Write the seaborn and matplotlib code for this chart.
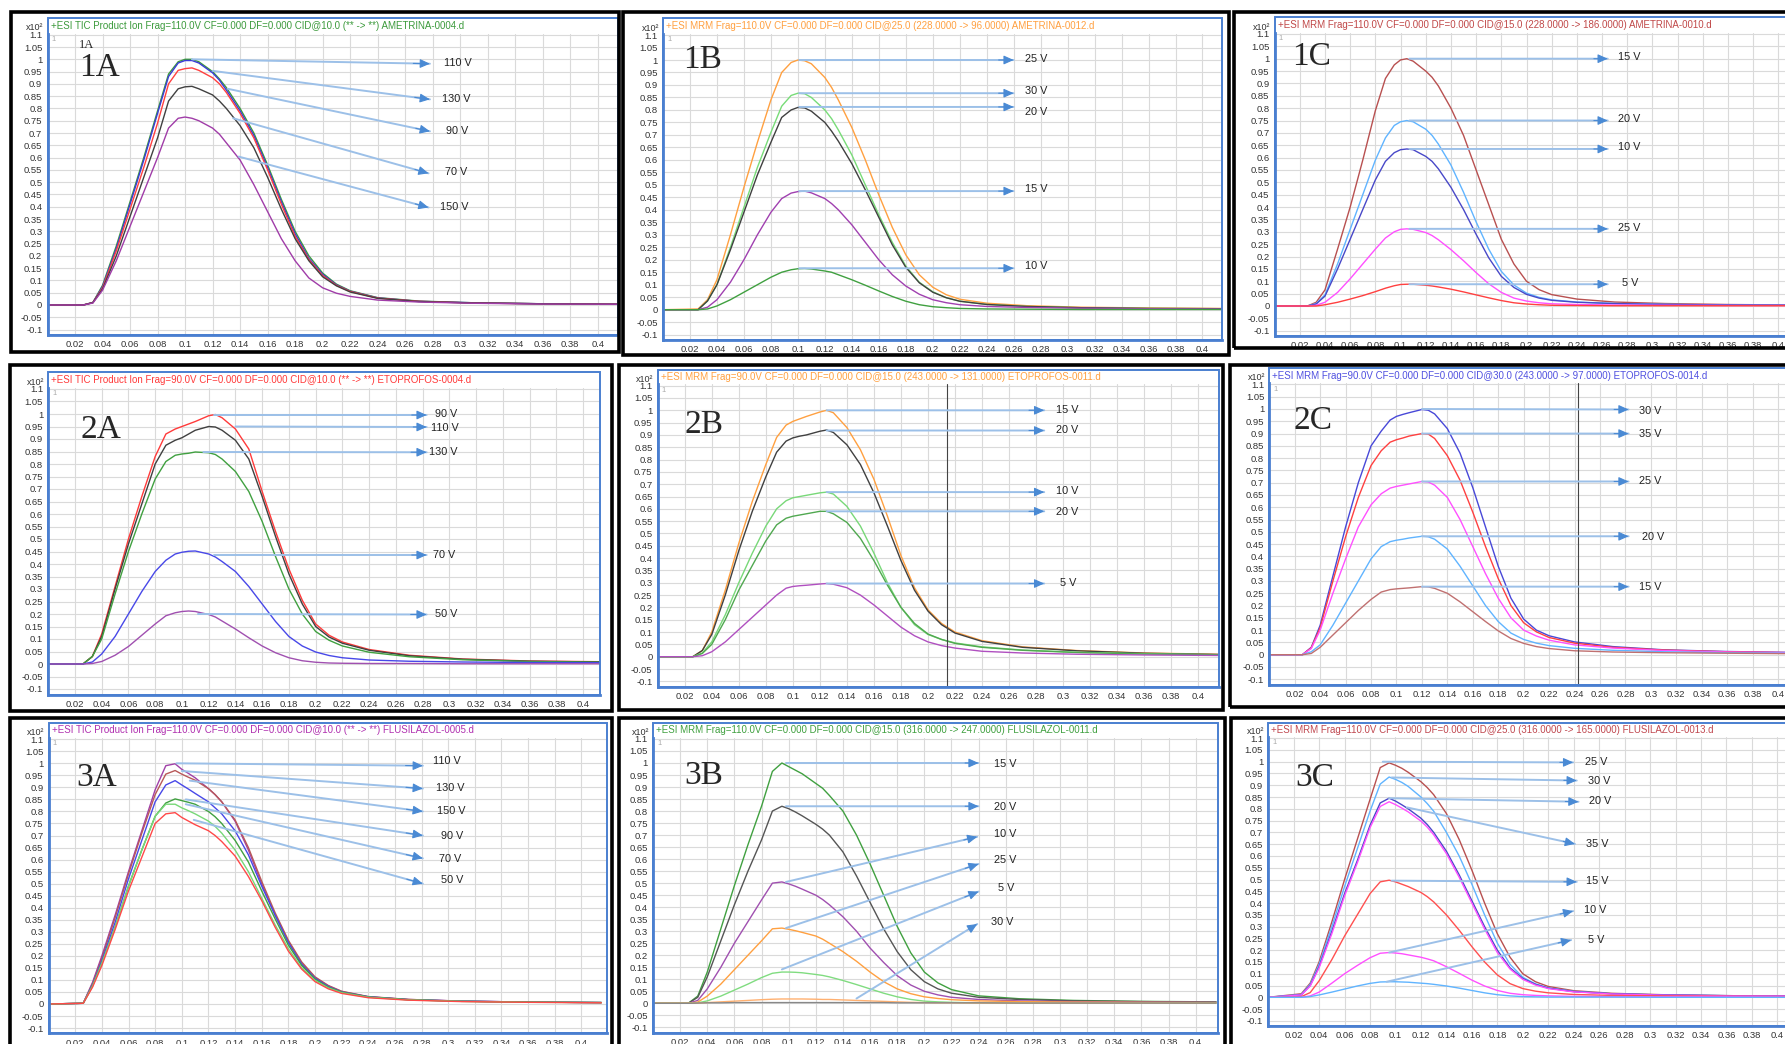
import numpy as np
import seaborn as sns
from matplotlib import pyplot as plt
from matplotlib.patches import Rectangle

W, H = 1785, 1044

# retention time grid (min) shared by all traces
T = [0.0, 0.026, 0.033, 0.04, 0.05, 0.06, 0.07, 0.08, 0.088, 0.095, 0.1, 0.105, 0.11, 0.12, 0.125,
     0.13, 0.14, 0.15, 0.16, 0.17, 0.18, 0.19, 0.2, 0.21, 0.22, 0.24, 0.27, 0.31, 0.36, 0.415]

# ---- 1A ametrina TIC
TITLE_1A = '+ESI TIC Product Ion Frag=110.0V CF=0.000 DF=0.000 CID@10.0 (** -> **) AMETRINA-0004.d'
LABELS_1A = ['110 V', '130 V', '90 V', '70 V', '150 V']
Y_1A = [
    [0, 0, 0.01, 0.08, 0.24, 0.42, 0.6, 0.79, 0.94, 0.99, 1.0, 1.0, 0.99, 0.95, 0.92, 0.885, 0.8, 0.7, 0.57, 0.43, 0.3, 0.2, 0.13, 0.085, 0.058, 0.03, 0.016, 0.009, 0.005, 0.003],
    [0, 0, 0.01, 0.075, 0.23, 0.41, 0.59, 0.78, 0.93, 0.985, 0.995, 0.995, 0.985, 0.945, 0.915, 0.875, 0.79, 0.69, 0.56, 0.42, 0.29, 0.19, 0.125, 0.082, 0.056, 0.029, 0.015, 0.009, 0.005, 0.003],
    [0, 0, 0.01, 0.07, 0.22, 0.39, 0.56, 0.74, 0.9, 0.955, 0.962, 0.965, 0.955, 0.925, 0.9, 0.865, 0.78, 0.68, 0.55, 0.41, 0.28, 0.185, 0.12, 0.08, 0.055, 0.028, 0.015, 0.008, 0.005, 0.003],
    [0, 0, 0.01, 0.065, 0.2, 0.36, 0.52, 0.68, 0.83, 0.88, 0.888, 0.89, 0.88, 0.855, 0.83, 0.8, 0.73, 0.64, 0.52, 0.39, 0.27, 0.18, 0.115, 0.078, 0.053, 0.027, 0.014, 0.008, 0.005, 0.003],
    [0, 0, 0.008, 0.06, 0.18, 0.32, 0.46, 0.6, 0.72, 0.76, 0.765, 0.76, 0.75, 0.72, 0.695, 0.66, 0.59, 0.49, 0.38, 0.27, 0.18, 0.11, 0.07, 0.048, 0.035, 0.02, 0.012, 0.007, 0.004, 0.003],
]
COLORS_1A = ['#3c9a3c', '#3a3ad8', '#ff4040', '#404040', '#a03ca8']

# ---- 1B ametrina MRM 228 -> 96
TITLE_1B = '+ESI MRM Frag=110.0V CF=0.000 DF=0.000 CID@25.0 (228.0000 -> 96.0000) AMETRINA-0012.d'
LABELS_1B = ['25 V', '30 V', '20 V', '15 V', '10 V']
Y_1B = [
    [0, 0.003, 0.04, 0.12, 0.3, 0.49, 0.67, 0.84, 0.95, 0.99, 1.0, 0.997, 0.985, 0.93, 0.89, 0.84, 0.73, 0.6, 0.46, 0.33, 0.22, 0.14, 0.09, 0.06, 0.042, 0.026, 0.016, 0.01, 0.007, 0.005],
    [0, 0, 0.035, 0.1, 0.25, 0.41, 0.57, 0.71, 0.815, 0.858, 0.867, 0.865, 0.85, 0.8, 0.765, 0.72, 0.62, 0.5, 0.38, 0.27, 0.175, 0.11, 0.072, 0.048, 0.034, 0.021, 0.013, 0.008, 0.005, 0.004],
    [0, 0, 0.035, 0.1, 0.24, 0.39, 0.54, 0.67, 0.77, 0.8, 0.81, 0.808, 0.795, 0.75, 0.715, 0.675, 0.585, 0.48, 0.37, 0.26, 0.17, 0.108, 0.07, 0.048, 0.034, 0.021, 0.013, 0.008, 0.005, 0.004],
    [0, 0, 0.01, 0.04, 0.11, 0.2, 0.3, 0.39, 0.445, 0.467, 0.473, 0.475, 0.468, 0.445, 0.425, 0.4, 0.34, 0.27, 0.2, 0.14, 0.095, 0.062, 0.04, 0.028, 0.02, 0.013, 0.009, 0.006, 0.004, 0.003],
    [0, 0, 0.003, 0.015, 0.04, 0.07, 0.1, 0.13, 0.15, 0.16, 0.164, 0.165, 0.163, 0.155, 0.15, 0.14, 0.12, 0.098, 0.075, 0.053, 0.034, 0.02, 0.012, 0.008, 0.005, 0.003, 0.002, 0.001, 0.001, 0.001],
]
COLORS_1B = ['#ffa040', '#78dc78', '#404040', '#a040b0', '#40a040']

# ---- 1C ametrina MRM 228 -> 186
TITLE_1C = '+ESI MRM Frag=110.0V CF=0.000 DF=0.000 CID@15.0 (228.0000 -> 186.0000) AMETRINA-0010.d'
LABELS_1C = ['15 V', '20 V', '10 V', '25 V', '5 V']
Y_1C = [
    [0, 0, 0.015, 0.065, 0.23, 0.4, 0.59, 0.79, 0.92, 0.975, 0.995, 1.0, 0.99, 0.95, 0.925, 0.89, 0.8, 0.69, 0.55, 0.41, 0.27, 0.17, 0.1, 0.066, 0.046, 0.028, 0.016, 0.01, 0.006, 0.004],
    [0, 0, 0.01, 0.045, 0.17, 0.31, 0.45, 0.59, 0.68, 0.73, 0.745, 0.75, 0.745, 0.715, 0.69, 0.655, 0.57, 0.46, 0.34, 0.23, 0.14, 0.085, 0.052, 0.035, 0.025, 0.016, 0.01, 0.007, 0.004, 0.003],
    [0, 0, 0.008, 0.04, 0.15, 0.27, 0.39, 0.51, 0.585, 0.62, 0.632, 0.635, 0.632, 0.605, 0.585, 0.555, 0.48, 0.39, 0.29, 0.195, 0.12, 0.075, 0.047, 0.032, 0.023, 0.015, 0.01, 0.006, 0.004, 0.003],
    [0, 0, 0.003, 0.015, 0.055, 0.11, 0.17, 0.23, 0.275, 0.3, 0.31, 0.312, 0.31, 0.297, 0.285, 0.268, 0.228, 0.183, 0.135, 0.09, 0.055, 0.032, 0.02, 0.013, 0.009, 0.006, 0.004, 0.003, 0.002, 0.002],
    [0, 0, 0, 0.005, 0.015, 0.028, 0.042, 0.058, 0.072, 0.082, 0.087, 0.088, 0.088, 0.084, 0.081, 0.077, 0.068, 0.057, 0.045, 0.033, 0.022, 0.013, 0.008, 0.005, 0.003, 0.002, 0.001, 0.001, 0.001, 0.001],
]
COLORS_1C = ['#b85050', '#60b4ff', '#4848c8', '#ff50ff', '#ff4040']

# ---- 2A etoprofos TIC
TITLE_2A = '+ESI TIC Product Ion Frag=90.0V CF=0.000 DF=0.000 CID@10.0 (** -> **) ETOPROFOS-0004.d'
LABELS_2A = ['90 V', '110 V', '130 V', '70 V', '50 V']
Y_2A = [
    [0, 0, 0.03, 0.12, 0.31, 0.5, 0.67, 0.83, 0.92, 0.94, 0.95, 0.96, 0.97, 0.993, 0.998, 0.985, 0.94, 0.86, 0.69, 0.53, 0.38, 0.255, 0.16, 0.115, 0.088, 0.058, 0.035, 0.02, 0.012, 0.009],
    [0, 0, 0.03, 0.11, 0.3, 0.48, 0.64, 0.8, 0.875, 0.895, 0.905, 0.92, 0.935, 0.95, 0.948, 0.935, 0.895, 0.82, 0.67, 0.51, 0.36, 0.24, 0.15, 0.108, 0.083, 0.055, 0.033, 0.019, 0.011, 0.008],
    [0, 0, 0.03, 0.1, 0.28, 0.45, 0.6, 0.74, 0.81, 0.835, 0.84, 0.843, 0.848, 0.845, 0.838, 0.82, 0.77, 0.69, 0.57, 0.43, 0.3, 0.2, 0.13, 0.095, 0.072, 0.047, 0.029, 0.017, 0.01, 0.007],
    [0, 0, 0.008, 0.04, 0.11, 0.2, 0.29, 0.37, 0.415, 0.44, 0.447, 0.451, 0.452, 0.44, 0.428, 0.41, 0.37, 0.31, 0.24, 0.17, 0.11, 0.072, 0.048, 0.034, 0.025, 0.016, 0.011, 0.008, 0.006, 0.005],
    [0, 0, 0.002, 0.01, 0.035, 0.07, 0.115, 0.16, 0.193, 0.205, 0.21, 0.212, 0.21, 0.198, 0.188, 0.172, 0.14, 0.105, 0.072, 0.045, 0.025, 0.013, 0.007, 0.004, 0.003, 0.002, 0.002, 0.001, 0.001, 0.001],
]
COLORS_2A = ['#ff3a3a', '#404040', '#40a040', '#4848e8', '#a050b0']

# ---- 2B etoprofos MRM 243 -> 131
TITLE_2B = '+ESI MRM Frag=90.0V CF=0.000 DF=0.000 CID@15.0 (243.0000 -> 131.0000) ETOPROFOS-0011.d'
LABELS_2B = ['15 V', '20 V', '10 V', '20 V', '5 V']
Y_2B = [
    [0, 0, 0.025, 0.1, 0.27, 0.46, 0.63, 0.78, 0.89, 0.94, 0.955, 0.965, 0.975, 0.993, 1.0, 0.99, 0.93, 0.84, 0.72, 0.57, 0.41, 0.28, 0.19, 0.135, 0.1, 0.065, 0.04, 0.025, 0.015, 0.01],
    [0, 0, 0.025, 0.09, 0.25, 0.43, 0.59, 0.73, 0.83, 0.875, 0.888, 0.895, 0.9, 0.915, 0.92, 0.91, 0.86, 0.78, 0.665, 0.53, 0.39, 0.27, 0.185, 0.13, 0.096, 0.062, 0.038, 0.024, 0.014, 0.009],
    [0, 0, 0.015, 0.06, 0.17, 0.3, 0.42, 0.53, 0.6, 0.633, 0.645, 0.65, 0.655, 0.665, 0.668, 0.66, 0.61, 0.53, 0.42, 0.3, 0.2, 0.13, 0.09, 0.07, 0.056, 0.04, 0.027, 0.018, 0.012, 0.008],
    [0, 0, 0.013, 0.05, 0.15, 0.27, 0.37, 0.47, 0.535, 0.562, 0.57, 0.575, 0.58, 0.59, 0.59, 0.58, 0.545, 0.48, 0.39, 0.29, 0.2, 0.135, 0.092, 0.07, 0.054, 0.038, 0.026, 0.017, 0.011, 0.008],
    [0, 0, 0.004, 0.02, 0.06, 0.11, 0.16, 0.21, 0.25, 0.278, 0.285, 0.288, 0.29, 0.295, 0.297, 0.294, 0.28, 0.25, 0.21, 0.165, 0.12, 0.085, 0.06, 0.045, 0.035, 0.022, 0.015, 0.01, 0.007, 0.005],
]
COLORS_2B = ['#ffa040', '#404040', '#78d878', '#50a850', '#b050c0']

# ---- 2C etoprofos MRM 243 -> 97
TITLE_2C = '+ESI MRM Frag=90.0V CF=0.000 DF=0.000 CID@30.0 (243.0000 -> 97.0000) ETOPROFOS-0014.d'
LABELS_2C = ['30 V', '35 V', '25 V', '20 V', '15 V']
Y_2C = [
    [0, 0, 0.03, 0.12, 0.32, 0.52, 0.7, 0.85, 0.91, 0.955, 0.97, 0.978, 0.985, 0.998, 0.995, 0.98, 0.92, 0.82, 0.68, 0.52, 0.36, 0.23, 0.145, 0.1, 0.077, 0.052, 0.033, 0.02, 0.013, 0.009],
    [0, 0, 0.028, 0.11, 0.3, 0.48, 0.64, 0.77, 0.83, 0.865, 0.875, 0.882, 0.89, 0.9, 0.898, 0.88, 0.81, 0.71, 0.58, 0.44, 0.31, 0.2, 0.13, 0.093, 0.07, 0.047, 0.03, 0.019, 0.012, 0.008],
    [0, 0, 0.025, 0.1, 0.25, 0.39, 0.52, 0.61, 0.655, 0.678, 0.685, 0.69, 0.695, 0.705, 0.703, 0.69, 0.64, 0.55, 0.44, 0.33, 0.23, 0.15, 0.1, 0.076, 0.059, 0.04, 0.027, 0.017, 0.011, 0.008],
    [0, 0, 0.012, 0.04, 0.12, 0.21, 0.3, 0.39, 0.44, 0.46, 0.466, 0.47, 0.475, 0.482, 0.48, 0.47, 0.43, 0.36, 0.28, 0.2, 0.135, 0.088, 0.062, 0.047, 0.037, 0.026, 0.018, 0.012, 0.008, 0.006],
    [0, 0, 0.005, 0.03, 0.08, 0.13, 0.18, 0.225, 0.255, 0.265, 0.268, 0.27, 0.272, 0.277, 0.276, 0.27, 0.25, 0.215, 0.175, 0.135, 0.097, 0.066, 0.046, 0.033, 0.025, 0.016, 0.011, 0.008, 0.006, 0.004],
]
COLORS_2C = ['#4848d8', '#ff4040', '#ff50ff', '#60b4ff', '#c07070']

# ---- 3A flusilazol TIC
TITLE_3A = '+ESI TIC Product Ion Frag=110.0V CF=0.000 DF=0.000 CID@10.0 (** -> **) FLUSILAZOL-0005.d'
LABELS_3A = ['110 V', '130 V', '150 V', '90 V', '70 V', '50 V']
Y_3A = [
    [0, 0.003, 0.09, 0.2, 0.37, 0.55, 0.72, 0.89, 0.99, 0.998, 0.975, 0.958, 0.94, 0.895, 0.87, 0.84, 0.76, 0.64, 0.5, 0.37, 0.26, 0.17, 0.11, 0.075, 0.052, 0.03, 0.019, 0.012, 0.008, 0.006],
    [0, 0.003, 0.085, 0.19, 0.36, 0.54, 0.71, 0.87, 0.955, 0.97, 0.955, 0.942, 0.93, 0.895, 0.87, 0.84, 0.765, 0.65, 0.51, 0.38, 0.265, 0.175, 0.113, 0.077, 0.053, 0.031, 0.019, 0.012, 0.008, 0.006],
    [0, 0.003, 0.08, 0.18, 0.34, 0.52, 0.68, 0.84, 0.91, 0.928, 0.91, 0.893, 0.875, 0.84, 0.815, 0.79, 0.72, 0.62, 0.49, 0.37, 0.255, 0.165, 0.107, 0.073, 0.05, 0.03, 0.018, 0.012, 0.008, 0.006],
    [0, 0.003, 0.075, 0.17, 0.32, 0.49, 0.64, 0.78, 0.835, 0.852, 0.845, 0.838, 0.83, 0.8, 0.778, 0.75, 0.68, 0.59, 0.47, 0.355, 0.245, 0.16, 0.103, 0.07, 0.049, 0.029, 0.018, 0.011, 0.008, 0.006],
    [0, 0.003, 0.075, 0.17, 0.32, 0.49, 0.64, 0.78, 0.83, 0.83, 0.815, 0.803, 0.79, 0.76, 0.738, 0.71, 0.64, 0.55, 0.44, 0.33, 0.23, 0.15, 0.098, 0.067, 0.047, 0.028, 0.017, 0.011, 0.007, 0.006],
    [0, 0.003, 0.07, 0.16, 0.31, 0.47, 0.61, 0.75, 0.79, 0.795, 0.775, 0.76, 0.745, 0.72, 0.7, 0.675, 0.615, 0.53, 0.43, 0.32, 0.22, 0.145, 0.093, 0.063, 0.044, 0.026, 0.016, 0.01, 0.007, 0.005],
]
COLORS_3A = ['#a040a8', '#b85858', '#4848e8', '#40a040', '#78d878', '#ff4848']

# ---- 3B flusilazol MRM 316 -> 247 (last trace is the unlabelled flat one)
TITLE_3B = '+ESI MRM Frag=110.0V CF=0.000 DF=0.000 CID@15.0 (316.0000 -> 247.0000) FLUSILAZOL-0011.d'
LABELS_3B = ['15 V', '20 V', '10 V', '25 V', '5 V', '30 V', '']
Y_3B = [
    [0, 0, 0.03, 0.13, 0.31, 0.49, 0.66, 0.82, 0.965, 1.0, 0.985, 0.97, 0.955, 0.915, 0.895, 0.865, 0.8, 0.7, 0.58, 0.45, 0.32, 0.21, 0.13, 0.085, 0.057, 0.031, 0.019, 0.012, 0.008, 0.006],
    [0, 0, 0.025, 0.11, 0.26, 0.41, 0.55, 0.68, 0.8, 0.82, 0.81, 0.796, 0.78, 0.745, 0.725, 0.7, 0.63, 0.53, 0.42, 0.31, 0.215, 0.14, 0.09, 0.06, 0.042, 0.025, 0.016, 0.01, 0.007, 0.005],
    [0, 0, 0.012, 0.06, 0.15, 0.25, 0.34, 0.43, 0.5, 0.505, 0.497, 0.487, 0.475, 0.45, 0.432, 0.41, 0.36, 0.3, 0.23, 0.17, 0.115, 0.076, 0.05, 0.035, 0.025, 0.016, 0.01, 0.007, 0.005, 0.004],
    [0, 0, 0.005, 0.03, 0.08, 0.14, 0.2, 0.26, 0.31, 0.313, 0.308, 0.302, 0.295, 0.28, 0.267, 0.25, 0.215, 0.175, 0.13, 0.09, 0.06, 0.04, 0.027, 0.02, 0.015, 0.01, 0.007, 0.005, 0.004, 0.003],
    [0, 0, 0.002, 0.01, 0.03, 0.055, 0.08, 0.107, 0.125, 0.13, 0.13, 0.129, 0.127, 0.12, 0.116, 0.11, 0.095, 0.078, 0.06, 0.042, 0.027, 0.016, 0.009, 0.006, 0.004, 0.002, 0.001, 0.001, 0.001, 0.001],
    [0, 0, 0.001, 0.003, 0.006, 0.009, 0.012, 0.015, 0.017, 0.018, 0.018, 0.018, 0.018, 0.017, 0.016, 0.016, 0.014, 0.012, 0.01, 0.008, 0.006, 0.004, 0.003, 0.002, 0.002, 0.001, 0.001, 0.001, 0.001, 0.001],
    [0, 0, 0.001, 0.002, 0.002, 0.003, 0.003, 0.003, 0.003, 0.003, 0.003, 0.003, 0.003, 0.003, 0.003, 0.003, 0.003, 0.003, 0.003, 0.003, 0.002, 0.002, 0.002, 0.002, 0.002, 0.002, 0.001, 0.001, 0.001, 0.001],
]
COLORS_3B = ['#40a040', '#555555', '#a050b0', '#ffa040', '#80dc80', '#ffb070', '#888888']

# ---- 3C flusilazol MRM 316 -> 165
TITLE_3C = '+ESI MRM Frag=110.0V CF=0.000 DF=0.000 CID@25.0 (316.0000 -> 165.0000) FLUSILAZOL-0013.d'
LABELS_3C = ['25 V', '30 V', '20 V', '35 V', '15 V', '10 V', '5 V']
Y_3C = [
    [0, 0.015, 0.06, 0.15, 0.32, 0.5, 0.67, 0.84, 0.975, 0.995, 0.985, 0.972, 0.955, 0.915, 0.89, 0.86, 0.78, 0.67, 0.54, 0.4, 0.27, 0.17, 0.1, 0.066, 0.046, 0.028, 0.017, 0.011, 0.007, 0.005],
    [0, 0.012, 0.055, 0.14, 0.3, 0.47, 0.63, 0.79, 0.905, 0.935, 0.925, 0.912, 0.895, 0.85, 0.822, 0.79, 0.7, 0.6, 0.48, 0.35, 0.23, 0.14, 0.085, 0.057, 0.04, 0.025, 0.015, 0.01, 0.007, 0.005],
    [0, 0.01, 0.05, 0.13, 0.28, 0.44, 0.58, 0.73, 0.825, 0.845, 0.833, 0.817, 0.8, 0.76, 0.733, 0.7, 0.62, 0.52, 0.41, 0.3, 0.2, 0.125, 0.08, 0.055, 0.039, 0.024, 0.015, 0.01, 0.007, 0.005],
    [0, 0.01, 0.048, 0.125, 0.27, 0.43, 0.57, 0.72, 0.81, 0.83, 0.818, 0.803, 0.787, 0.748, 0.722, 0.69, 0.61, 0.51, 0.4, 0.29, 0.19, 0.12, 0.076, 0.052, 0.037, 0.023, 0.014, 0.009, 0.006, 0.005],
    [0, 0.003, 0.02, 0.07, 0.16, 0.26, 0.35, 0.44, 0.49, 0.497, 0.49, 0.48, 0.47, 0.445, 0.427, 0.405, 0.35, 0.285, 0.215, 0.15, 0.095, 0.058, 0.037, 0.026, 0.019, 0.012, 0.008, 0.006, 0.004, 0.003],
    [0, 0, 0.006, 0.022, 0.06, 0.1, 0.135, 0.168, 0.187, 0.19, 0.188, 0.185, 0.18, 0.17, 0.163, 0.155, 0.13, 0.102, 0.073, 0.048, 0.029, 0.017, 0.011, 0.008, 0.006, 0.004, 0.003, 0.002, 0.002, 0.001],
    [0, 0, 0.003, 0.01, 0.022, 0.035, 0.048, 0.059, 0.065, 0.066, 0.066, 0.065, 0.064, 0.06, 0.058, 0.055, 0.048, 0.039, 0.029, 0.019, 0.011, 0.006, 0.003, 0.002, 0.001, 0.001, 0.001, 0, 0, 0],
]
COLORS_3C = ['#b85050', '#60b4ff', '#4848c8', '#ff50ff', '#ff5050', '#ff50ff', '#60b4ff']

TITLE_COLORS = {'1A': '#3c9a3c', '1B': '#ffa040', '1C': '#c04848', '2A': '#ff3a3a', '2B': '#ffa040',
                '2C': '#5050e0', '3A': '#b030b0', '3B': '#40a040', '3C': '#c04850'}

# arrow geometry per panel: (x start, y start, x tip, y tip, label x, label y)
ARROWS = {
    '1A': [(0.105, 1.0, 0.278, 0.982, 0.288, 0.984), (0.12, 0.953, 0.278, 0.837, 0.287, 0.837),
           (0.131, 0.88, 0.278, 0.707, 0.29, 0.71), (0.135, 0.76, 0.277, 0.536, 0.289, 0.54),
           (0.139, 0.604, 0.277, 0.397, 0.285, 0.399)],
    '1B': [(0.101, 1.0, 0.26, 1.0, 0.2685, 1.003), (0.101, 0.867, 0.26, 0.867, 0.2685, 0.877),
           (0.101, 0.812, 0.26, 0.812, 0.2685, 0.793), (0.101, 0.475, 0.26, 0.475, 0.2685, 0.483),
           (0.101, 0.166, 0.26, 0.166, 0.2685, 0.175)],
    '1C': [(0.107, 1.0, 0.2645, 1.0, 0.273, 1.005), (0.107, 0.75, 0.2645, 0.75, 0.273, 0.756),
           (0.107, 0.635, 0.2645, 0.635, 0.273, 0.644), (0.107, 0.312, 0.2645, 0.312, 0.273, 0.314),
           (0.107, 0.088, 0.2645, 0.088, 0.276, 0.092)],
    '2A': [(0.124, 0.996, 0.283, 0.996, 0.289, 0.999), (0.14, 0.95, 0.283, 0.948, 0.286, 0.945),
           (0.116, 0.848, 0.283, 0.847, 0.285, 0.848), (0.124, 0.436, 0.283, 0.436, 0.288, 0.436),
           (0.112, 0.2, 0.283, 0.198, 0.289, 0.2)],
    '2B': [(0.125, 1.0, 0.286, 1.0, 0.295, 1.0), (0.125, 0.918, 0.286, 0.918, 0.295, 0.92),
           (0.125, 0.668, 0.286, 0.668, 0.295, 0.674), (0.125, 0.59, 0.286, 0.59, 0.295, 0.589),
           (0.125, 0.297, 0.286, 0.297, 0.298, 0.298)],
    '2C': [(0.12, 1.0, 0.2825, 0.998, 0.291, 0.99), (0.12, 0.9, 0.2825, 0.9, 0.291, 0.9),
           (0.12, 0.705, 0.2825, 0.705, 0.291, 0.705), (0.12, 0.482, 0.2825, 0.482, 0.293, 0.48),
           (0.12, 0.277, 0.2825, 0.277, 0.291, 0.274)],
    '3A': [(0.096, 1.0, 0.281, 0.99, 0.289, 1.011), (0.1, 0.968, 0.281, 0.895, 0.291, 0.899),
           (0.106, 0.928, 0.281, 0.8, 0.2915, 0.8), (0.103, 0.85, 0.281, 0.7, 0.295, 0.7),
           (0.103, 0.83, 0.281, 0.605, 0.2935, 0.602), (0.109, 0.765, 0.281, 0.5, 0.2945, 0.515)],
    '3B': [(0.098, 1.0, 0.24, 1.0, 0.251, 0.996), (0.098, 0.82, 0.24, 0.82, 0.251, 0.818),
           (0.098, 0.505, 0.239, 0.693, 0.251, 0.705), (0.098, 0.313, 0.24, 0.58, 0.251, 0.596),
           (0.095, 0.141, 0.24, 0.465, 0.254, 0.481), (0.15, 0.02, 0.239, 0.33, 0.2495, 0.34)],
    '3C': [(0.09, 1.0, 0.2396, 0.997, 0.249, 1.0), (0.097, 0.933, 0.2424, 0.92, 0.251, 0.919),
           (0.095, 0.845, 0.2438, 0.83, 0.252, 0.834), (0.109, 0.806, 0.241, 0.651, 0.25, 0.651),
           (0.097, 0.495, 0.2424, 0.49, 0.25, 0.495), (0.095, 0.19, 0.2396, 0.366, 0.248, 0.371),
           (0.093, 0.066, 0.238, 0.243, 0.251, 0.243)],
}

# layout in pixels: black frame (l, t, r, b), x of t=0, px per min, y px of 1 and 0, x max, blue box top
LAYOUT = {
    '1A': ((11, 12, 619, 352), 47.5, 1375.6, 59.3, 305.0, 0.4145, 18.3),
    '1B': ((623, 12, 1229, 355), 663.0, 1348.7, 60.0, 309.7, 0.4145, 18.3),
    '1C': ((1234, 12, 1795, 348), 1274.6, 1259.5, 58.7, 306.0, 0.4145, 17.3),
    '2A': ((10, 365, 612, 711), 48.2, 1337.3, 414.0, 664.0, 0.4128, 372.3),
    '2B': ((619, 365, 1223, 710), 657.7, 1351.5, 410.3, 656.7, 0.4155, 370.0),
    '2C': ((1230, 365, 1795, 707), 1269.3, 1271.8, 409.0, 654.7, 0.4145, 368.3),
    '3A': ((10, 718, 612, 1060), 48.6, 1331.8, 763.3, 1004.0, 0.419, 722.7),
    '3B': ((619, 718, 1225, 1060), 653.0, 1356.7, 763.0, 1003.3, 0.4162, 722.7),
    '3C': ((1231, 718, 1795, 1060), 1268.2, 1272.9, 761.7, 997.3, 0.4145, 722.7),
}
TAG_POS = {'1A': (0.023, 0.932), '1B': (0.015, 0.968), '1C': (0.014, 0.975), '2A': (0.0245, 0.904),
           '2B': (0.02, 0.908), '2C': (0.019, 0.919), '3A': (0.021, 0.906), '3B': (0.023, 0.913),
           '3C': (0.021, 0.896)}
VLINES = {'2B': 0.214, '2C': 0.243}

PANELS = [
    ('1A', TITLE_1A, LABELS_1A, Y_1A, COLORS_1A), ('1B', TITLE_1B, LABELS_1B, Y_1B, COLORS_1B),
    ('1C', TITLE_1C, LABELS_1C, Y_1C, COLORS_1C), ('2A', TITLE_2A, LABELS_2A, Y_2A, COLORS_2A),
    ('2B', TITLE_2B, LABELS_2B, Y_2B, COLORS_2B), ('2C', TITLE_2C, LABELS_2C, Y_2C, COLORS_2C),
    ('3A', TITLE_3A, LABELS_3A, Y_3A, COLORS_3A), ('3B', TITLE_3B, LABELS_3B, Y_3B, COLORS_3B),
    ('3C', TITLE_3C, LABELS_3C, Y_3C, COLORS_3C),
]

YMIN, YMAX = -0.122, 1.105
BLUE = '#4a7fd0'

sns.set_style('white')
plt.rcParams['font.family'] = ['Liberation Sans', 'DejaVu Sans']
plt.rcParams['axes.unicode_minus'] = False

fig = plt.figure(figsize=(W / 100, H / 100), dpi=100)
fig.patch.set_facecolor('white')


def fx(px):
    return px / W


def fy(py):
    return 1 - py / H


def draw_panel(name, title, labels, ys, colors):
    frame, x0, xs, y1, y0, xmax, bluetop = LAYOUT[name]
    ppu = y0 - y1
    bot = y0 - YMIN * ppu
    top = y1 - (YMAX - 1) * ppu
    ax = fig.add_axes([fx(x0), fy(bot), xs * xmax / W, (bot - top) / H])

    for vals, c in zip(ys, colors):
        sns.lineplot(x=T, y=vals, ax=ax, color=c, lw=1.0, legend=False, estimator=None)

    ax.set_xlim(0, xmax)
    ax.set_ylim(YMIN, YMAX)
    ax.set_xticks(np.round(np.arange(0.02, 0.401, 0.02), 2))
    ax.set_yticks(np.round(np.arange(-0.1, 1.101, 0.05), 2))
    ax.xaxis.set_major_formatter(plt.FormatStrFormatter('%g'))
    ax.yaxis.set_major_formatter(plt.FormatStrFormatter('%g'))
    ax.tick_params(axis='both', length=2.5, width=0.6, color='#555555', labelsize=6.8,
                   labelcolor='#333333', pad=1.2)
    ax.grid(True, color='#dadada', lw=0.8)
    ax.set_axisbelow(True)
    ax.set_xlabel('')
    ax.set_ylabel('')
    for side in ['top', 'right']:
        ax.spines[side].set_visible(False)
    for side in ['left', 'bottom']:
        ax.spines[side].set_color(BLUE)
        ax.spines[side].set_linewidth(2)

    if name in VLINES:
        ax.axvline(VLINES[name], color='#444444', lw=0.8)

    # blue box round title + plot, black frame round the panel
    fig.add_artist(Rectangle((fx(x0), fy(bot)), xs * xmax / W, (bot - bluetop) / H, fill=False,
                             ec=BLUE, lw=1.4, transform=fig.transFigure))
    l, t, r, b = frame
    fig.add_artist(Rectangle((fx(l), fy(b)), (r - l) / W, (b - t) / H, fill=False, ec='black',
                             lw=2.6, transform=fig.transFigure))

    ty = (bluetop + top) / 2
    fig.text(fx(x0 + 3), fy(ty), title, color=TITLE_COLORS[name], fontsize=7, va='center')
    fig.text(fx(x0 - 4), fy(ty + 2), 'x10\u00b2', color='#333333', fontsize=6.5, ha='right', va='center')
    ax.text(0.003, 1.095, '1', color='#aaaaaa', fontsize=5.5, va='top')

    tx, tyy = TAG_POS[name]
    ax.text(tx, tyy, name, family=['Liberation Serif', 'DejaVu Serif'], fontsize=24, va='baseline')
    if name == '1A':
        ax.text(tx, 1.046, name, family=['Liberation Serif', 'DejaVu Serif'], fontsize=9, va='baseline')

    for (xa, ya, xb, yb, lx, ly), lab in zip(ARROWS[name], labels):
        # pale shaft, then a darker head on the last bit of it
        ax.annotate('', xy=(xb, yb), xytext=(xa, ya),
                    arrowprops=dict(arrowstyle='-', color='#9cc0e8', lw=1.4, shrinkA=0, shrinkB=0))
        hx, hy = xb - 0.07 * (xb - xa), yb - 0.07 * (yb - ya)
        ax.annotate('', xy=(xb, yb), xytext=(hx, hy),
                    arrowprops=dict(arrowstyle='-|>,head_length=0.6,head_width=0.27', color='#4a8ad4',
                                    lw=0.8, shrinkA=0, shrinkB=0))
        ax.text(lx, ly, lab, fontsize=7.8, va='center', ha='left', color='#222222')


for p in PANELS:
    draw_panel(*p)

fig.savefig('out.png', dpi=100, facecolor='white')
